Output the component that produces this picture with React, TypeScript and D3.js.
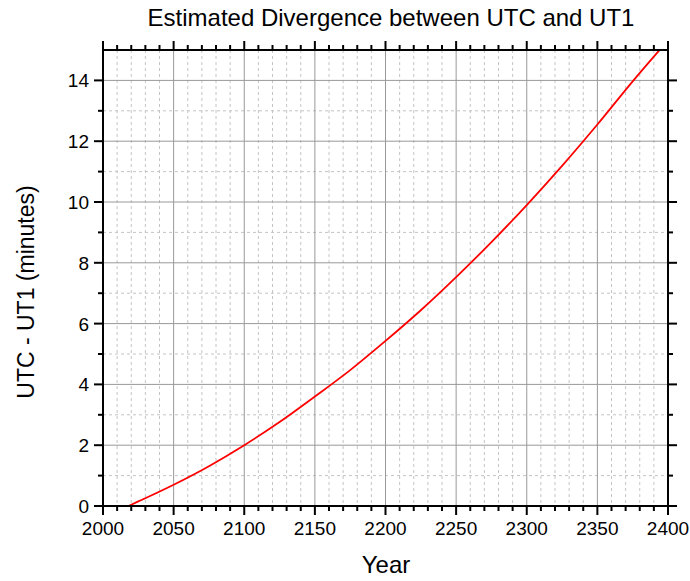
import React from "react";
import * as d3 from "d3";

const years = [2018, 2025, 2050, 2075, 2100, 2125, 2150, 2175, 2200, 2225, 2250, 2275, 2300, 2325, 2350, 2375, 2394];
const minutes = [0, 0.15, 0.7, 1.31, 2.0, 2.76, 3.6, 4.47, 5.43, 6.44, 7.53, 8.68, 9.9, 11.19, 12.55, 13.97, 15.0];
const xTicks = [2000, 2050, 2100, 2150, 2200, 2250, 2300, 2350, 2400];
const yTicks = [0, 2, 4, 6, 8, 10, 12, 14];

const W = 690, H = 581;
const L = 103, R = 668, T = 50, B = 506;

export default function App() {
  const x = d3.scaleLinear().domain([2000, 2400]).range([L, R]);
  const y = d3.scaleLinear().domain([0, 15]).range([B, T]);
  const xMinor = d3.range(2000, 2401, 10).filter((v) => v % 50 !== 0);
  const yMinor = d3.range(1, 15, 2);
  const line = d3.line<number>().x((_, i) => x(years[i])).y((d) => y(d)).curve(d3.curveMonotoneX);
  const font = "Liberation Sans, Arial, sans-serif";
  return (
    <svg width={W} height={H} style={{ position: "absolute", left: 0, top: 0 }} fontFamily={font}>
      <rect width={W} height={H} fill="#fff" />
      {xMinor.map((v) => (
        <line key={"xm" + v} x1={x(v)} x2={x(v)} y1={T} y2={B} stroke="#c4c4c4" strokeDasharray="3,3" />
      ))}
      {yMinor.map((v) => (
        <line key={"ym" + v} x1={L} x2={R} y1={y(v)} y2={y(v)} stroke="#c4c4c4" strokeDasharray="3,3" />
      ))}
      {xTicks.map((v) => (
        <line key={"xg" + v} x1={x(v)} x2={x(v)} y1={T} y2={B} stroke="#999" strokeWidth={1} />
      ))}
      {yTicks.map((v) => (
        <line key={"yg" + v} x1={L} x2={R} y1={y(v)} y2={y(v)} stroke="#999" strokeWidth={1} />
      ))}
      <path d={line(minutes) || ""} fill="none" stroke="#ff0000" strokeWidth={1.8} />
      <rect x={L} y={T} width={R - L} height={B - T} fill="none" stroke="#000" strokeWidth={2} />
      {xTicks.map((v) => (
        <g key={"xt" + v}>
          <line x1={x(v)} x2={x(v)} y1={B} y2={B + 9} stroke="#000" strokeWidth={2} />
          <line x1={x(v)} x2={x(v)} y1={T} y2={T - 9} stroke="#000" strokeWidth={2} />
          <text x={x(v)} y={B + 29} textAnchor="middle" fontSize={19}>{v}</text>
        </g>
      ))}
      {xMinor.map((v) => (
        <g key={"xmt" + v}>
          <line x1={x(v)} x2={x(v)} y1={B - 1} y2={B + 5} stroke="#000" strokeWidth={2} />
          <line x1={x(v)} x2={x(v)} y1={T + 1} y2={T - 5} stroke="#000" strokeWidth={2} />
        </g>
      ))}
      {yTicks.map((v) => (
        <g key={"yt" + v}>
          <line x1={L} x2={L - 9} y1={y(v)} y2={y(v)} stroke="#000" strokeWidth={2} />
          <line x1={R} x2={R + 9} y1={y(v)} y2={y(v)} stroke="#000" strokeWidth={2} />
          <text x={L - 14} y={y(v) + 7} textAnchor="end" fontSize={19}>{v}</text>
        </g>
      ))}
      {yMinor.map((v) => (
        <g key={"ymt" + v}>
          <line x1={L} x2={L - 5} y1={y(v)} y2={y(v)} stroke="#000" strokeWidth={2} />
          <line x1={R} x2={R + 5} y1={y(v)} y2={y(v)} stroke="#000" strokeWidth={2} />
        </g>
      ))}
      <text x={391} y={26} textAnchor="middle" fontSize={24}>Estimated Divergence between UTC and UT1</text>
      <text x={386} y={573} textAnchor="middle" fontSize={24}>Year</text>
      <text transform={`translate(34, 292) rotate(-90)`} textAnchor="middle" fontSize={23}>UTC - UT1 (minutes)</text>
    </svg>
  );
}
